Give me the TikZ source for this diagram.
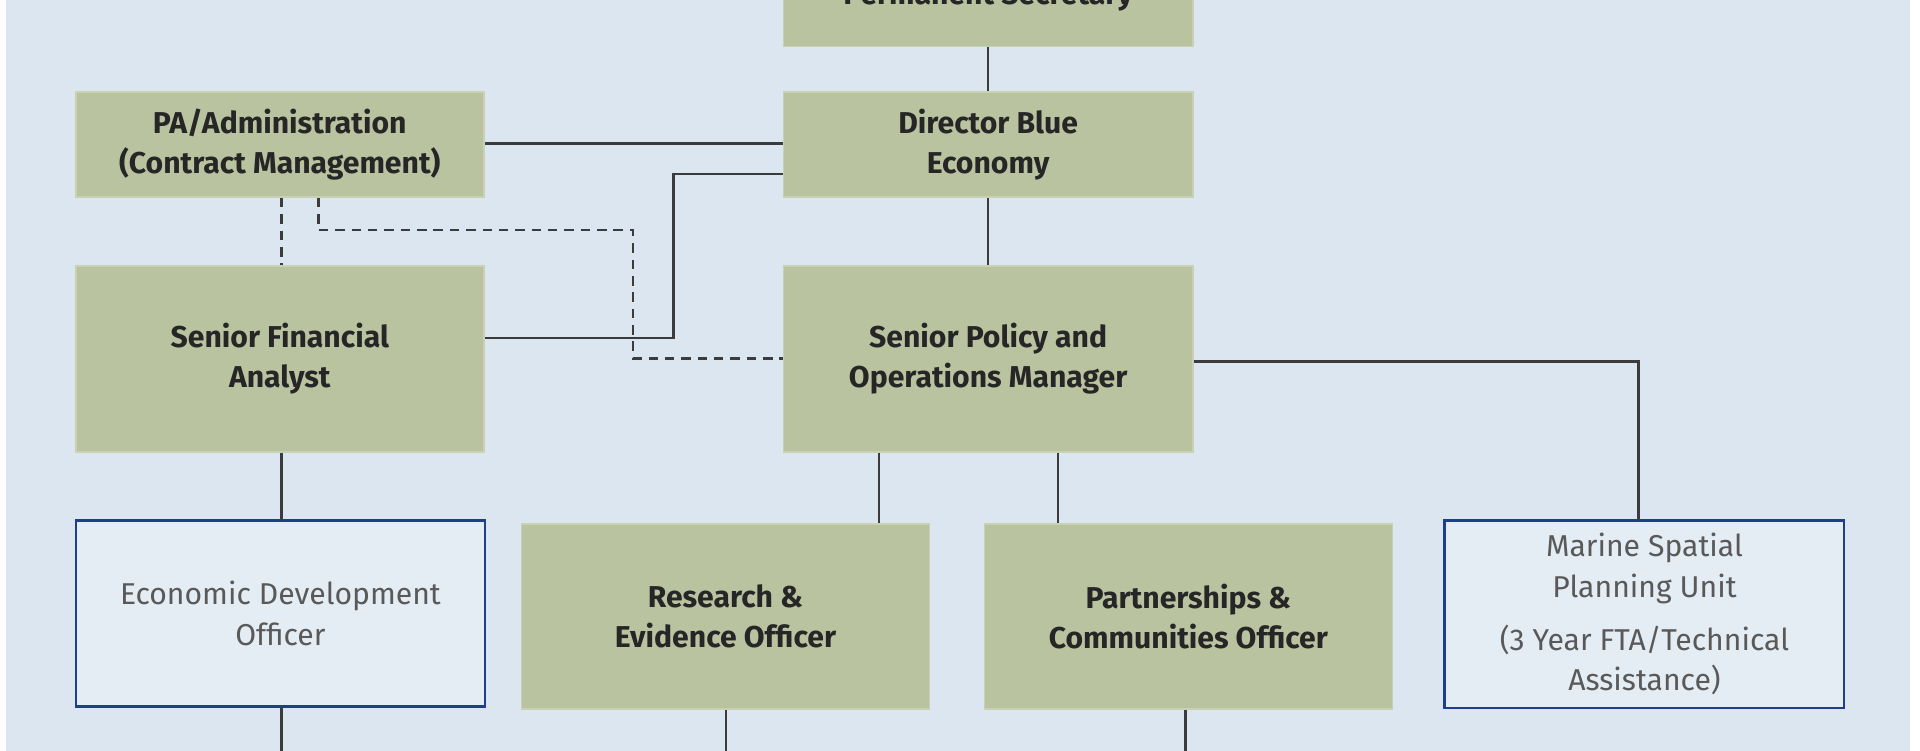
\documentclass[tikz,border=0pt]{standalone}
\usepackage{fontspec}
\setmainfont{Fira Sans}
\usetikzlibrary{positioning}
\definecolor{bgblue}{HTML}{DCE6F0}
\definecolor{boxgreen}{HTML}{B9C3A0}
\definecolor{boxline}{HTML}{C9D1B4}
\definecolor{unitblue}{HTML}{1F3F8A}
\definecolor{unitfill}{HTML}{E4ECF4}
\definecolor{linkgray}{HTML}{3C3C3C}
\tikzset{
	role/.style={draw=boxline, rectangle, inner sep=2pt, fill=boxgreen, align=center, font=\bfseries\fontsize{7}{9.4}\selectfont, text=black!85},
	unit/.style={draw=unitblue, rectangle, inner sep=2pt, fill=unitfill, align=center, font=\fontsize{7}{9.4}\selectfont, text=black!65, line width=0.6pt},
	link/.style={linkgray, line width=0.6pt},
	dlink/.style={linkgray, line width=0.6pt, dash pattern=on 2.2pt off 1.6pt},
}
\begin{document}
\begin{tikzpicture}[x=0.01cm, y=-0.01cm]
	\useasboundingbox (0,0) rectangle (1568,613);
	\clip (0,0) rectangle (1568,613);
	\fill[white] (0,0) rectangle (1568,613);
	\fill[bgblue] (5,-5) rectangle (1560,620);
	
	\node (ps) [role, minimum width=3.34cm, minimum height=0.8cm] at (807,-2) {Permanent Secretary};
	\node (dir) [role, minimum width=3.34cm, minimum height=0.86cm] at (807,118) {Director Blue\\Economy};
	\node (pa) [role, minimum width=3.33cm, minimum height=0.86cm] at (228.5,118) {PA/Administration\\(Contract Management)};
	\node (sfa) [role, minimum width=3.33cm, minimum height=1.52cm] at (228.5,293) {Senior Financial\\Analyst};
	\node (spom) [role, minimum width=3.34cm, minimum height=1.52cm] at (807,293) {Senior Policy and\\Operations Manager};
	
	\node (edo) [unit, minimum width=3.34cm, minimum height=1.52cm] at (229,501) {Economic Development\\Officer};
	\node (reo) [role, minimum width=3.33cm, minimum height=1.51cm] at (592.5,503.5) {Research \&\\Evidence Officer};
	\node (pco) [role, minimum width=3.33cm, minimum height=1.51cm] at (970.5,503.5) {Partnerships \&\\Communities Officer};
	\node (msp) [unit, minimum width=3.26cm, minimum height=1.53cm] at (1343,501.5) {Marine Spatial\\Planning Unit\\[0.8ex](3 Year FTA/Technical\\Assistance)};
	
	\coordinate (edoend) at (230,613);
	\coordinate (reoend) at (593,613);
	\coordinate (pcoend) at (968,613);
	
	\begin{scope}[link]
		\draw (ps.south) -- (dir.north);
		\draw (pa.east |- 0,117) -- (dir.west |- 0,117);
		\draw (dir.west |- 0,142) -| (550,276) -- (sfa.east |- 0,276);
		\draw (dir.south) -- (spom.north);
		\draw (spom.east |- 0,295) -| (msp.north -| 1338,0);
		\draw (spom.south -| 718,0) -- (reo.north -| 718,0);
		\draw (spom.south -| 864,0) -- (pco.north -| 864,0);
		\draw (sfa.south -| 230,0) -- (edo.north -| 230,0);
		\draw (edo.south -| 230,0) -- (edoend);
		\draw (reo.south -| 593,0) -- (reoend);
		\draw (pco.south -| 968,0) -- (pcoend);
	\end{scope}
	
	\begin{scope}[dlink]
		\draw (pa.south -| 230,0) -- (sfa.north -| 230,0);
		\draw (pa.south -| 260,0) -- (260,188) -| (517,293) -- (spom.west |- 0,293);
	\end{scope}
\end{tikzpicture}
\end{document}
